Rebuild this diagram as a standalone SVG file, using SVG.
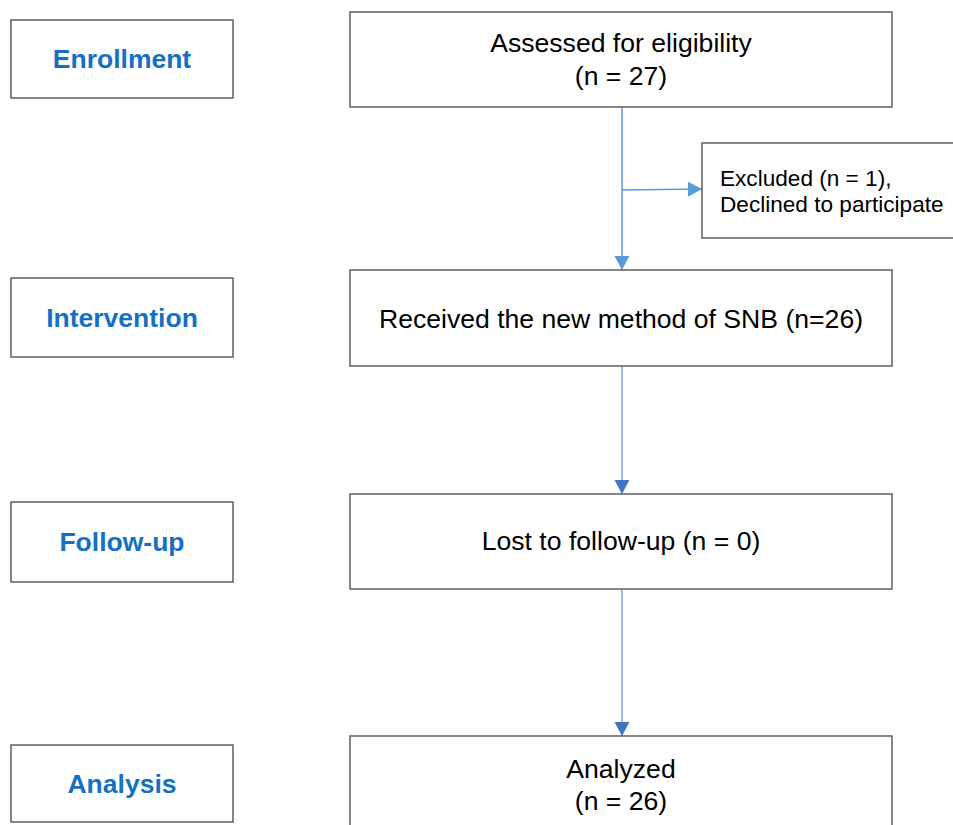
<svg xmlns="http://www.w3.org/2000/svg" width="953" height="825" viewBox="0 0 953 825">
<style>
.box{fill:#fff;stroke:#5f5f5f;stroke-width:1.5}
.lbl{font-family:"Liberation Sans",Arial,sans-serif;font-weight:bold;font-size:26.5px;fill:#1570c4;text-anchor:middle}
.txt{font-family:"Liberation Sans",Arial,sans-serif;font-size:26.6px;fill:#000;text-anchor:middle}
.sm{font-family:"Liberation Sans",Arial,sans-serif;font-size:22.6px;fill:#000}
.c1{stroke:#5b9bd5;stroke-width:1.5;fill:none}
.c2{stroke:#7aa6e2;stroke-width:1.5;fill:none}
</style>
<defs>
<marker id="a1" markerWidth="16" markerHeight="16" refX="14" refY="8" orient="auto" markerUnits="userSpaceOnUse"><path d="M0,0.5 L14,8 L0,15.5 Z" fill="#5b9bd5"/></marker>
<marker id="a2" markerWidth="16" markerHeight="16" refX="14" refY="8" orient="auto" markerUnits="userSpaceOnUse"><path d="M0,0.5 L14,8 L0,15.5 Z" fill="#4472c4"/></marker>
</defs>
<g id="connectors">
<line class="c1" x1="622" y1="107" x2="622" y2="270" marker-end="url(#a1)"/>
<line class="c1" x1="622" y1="190" x2="702" y2="189" marker-end="url(#a1)"/>
<line class="c2" x1="622" y1="366" x2="622" y2="494" marker-end="url(#a2)"/>
<line class="c2" x1="622" y1="589" x2="622" y2="736" marker-end="url(#a2)"/>
</g>
<g id="enrollment"><rect class="box" x="11" y="20" width="222" height="78"/><text class="lbl" x="122" y="68">Enrollment</text></g>
<g id="assessed"><rect class="box" x="350" y="12" width="542" height="95"/><text class="txt" x="621" y="52">Assessed for eligibility</text><text class="txt" x="621" y="85">(n = 27)</text></g>
<g id="excluded"><rect class="box" x="702" y="143" width="260" height="95"/><text class="sm" x="720" y="186">Excluded (n = 1),</text><text class="sm" x="720" y="212">Declined to participate</text></g>
<g id="intervention"><rect class="box" x="11" y="278" width="222" height="79"/><text class="lbl" x="122" y="327">Intervention</text></g>
<g id="received"><rect class="box" x="350" y="270" width="542" height="96"/><text class="txt" x="621" y="328">Received the new method of SNB (n=26)</text></g>
<g id="followup"><rect class="box" x="11" y="502" width="222" height="80"/><text class="lbl" x="122" y="551">Follow-up</text></g>
<g id="lost"><rect class="box" x="350" y="494" width="542" height="95"/><text class="txt" x="621" y="550">Lost to follow-up (n = 0)</text></g>
<g id="analysis"><rect class="box" x="11" y="745" width="222" height="77"/><text class="lbl" x="122" y="793">Analysis</text></g>
<g id="analyzed"><rect class="box" x="350" y="736" width="542" height="100"/><text class="txt" x="621" y="778">Analyzed</text><text class="txt" x="621" y="810">(n = 26)</text></g>
</svg>
